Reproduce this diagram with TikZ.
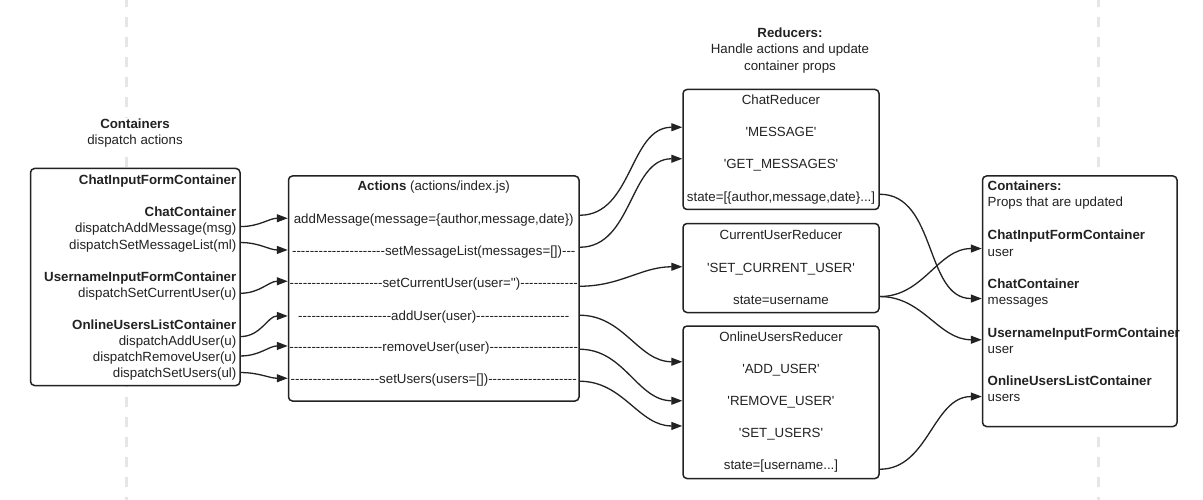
\documentclass[tikz,border=0pt]{standalone}
\usepackage{fontspec}
\setmainfont{Liberation Sans}[Ligatures=TeXOff]
\usetikzlibrary{arrows.meta}
\definecolor{ink}{HTML}{222222}
\definecolor{guide}{HTML}{E6E6E6}
\begin{document}
\begin{tikzpicture}[x=1pt,y=-1pt,
  box/.style={draw=ink, line width=1.5pt, rounded corners=4pt, fill=white, inner sep=0pt},
  txt/.style={inner sep=0pt, text=ink, font=\fontsize{13.3}{16}\selectfont},
  bold/.style={inner sep=0pt, text=ink, font=\fontsize{13.3}{16}\selectfont\bfseries},
  flow/.style={draw=ink, line width=1.3pt, -{Triangle[length=11pt,width=8pt]}},
  guideline/.style={draw=guide, line width=3pt, dash pattern=on 10pt off 10pt, dash phase=3pt}]
\useasboundingbox (0,0) rectangle (1203,500);
\fill[white] (0,0) rectangle (1203,500);
% guide lines
\coordinate (gLt) at (126,0); \coordinate (gLb) at (126,500);
\coordinate (gRt) at (1098,0); \coordinate (gRb) at (1098,500);
\draw[guideline] (gLt) -- (gLb);
\draw[guideline] (gRt) -- (gRb);
% headers
\node[bold, fill=white, inner sep=1pt, anchor=base] (h1) at (135,129) {Containers};
\node[txt, fill=white, inner sep=1pt, anchor=base] (h2) at (135,145) {dispatch actions};
\node[bold, anchor=base] (h3) at (790,38) {Reducers:};
\node[txt, anchor=base] (h4) at (790,54) {Handle actions and update};
\node[txt, anchor=base] (h5) at (790,70.5) {container props};
% boxes
\node[box, minimum width=209.5pt, minimum height=217pt] (cont) at (135.25,277) {};
\node[box, minimum width=290.5pt, minimum height=225pt] (act) at (433.75,288.5) {};
\node[box, minimum width=196pt, minimum height=120pt] (chatR) at (781,149.5) {};
\node[box, minimum width=196pt, minimum height=89pt] (curR) at (781,268) {};
\node[box, minimum width=196pt, minimum height=152.5pt] (onR) at (781,402.25) {};
\node[box, minimum width=194.5pt, minimum height=250.5pt] (props) at (1079.75,301.25) {};
% left container texts
\node[bold, anchor=base east] (c1) at (236.5,185) {ChatInputFormContainer};
\node[bold, anchor=base east] (c2) at (236.5,217) {ChatContainer};
\node[txt, anchor=base east] (c3) at (236.5,233) {dispatchAddMessage(msg)};
\node[txt, anchor=base east] (c4) at (236.5,249) {dispatchSetMessageList(ml)};
\node[bold, anchor=base east] (c5) at (236.5,281) {UsernameInputFormContainer};
\node[txt, anchor=base east] (c6) at (236.5,297) {dispatchSetCurrentUser(u)};
\node[bold, anchor=base east] (c7) at (236.5,329) {OnlineUsersListContainer};
\node[txt, anchor=base east] (c8) at (236.5,345) {dispatchAddUser(u)};
\node[txt, anchor=base east] (c9) at (236.5,361) {dispatchRemoveUser(u)};
\node[txt, anchor=base east] (c10) at (236.5,377) {dispatchSetUsers(ul)};
% actions texts
\node[txt, anchor=base] (a0) at (433.75,191) {\textbf{Actions} (actions/index.js)};
\node[txt, anchor=base] (a1) at (433.75,223) {addMessage(message=\{author,message,date\})};
\node[txt, anchor=base] (a2) at (433.75,255) {---------------------setMessageList(messages=[])---};
\node[txt, anchor=base] (a3) at (433.75,287.5) {---------------------setCurrentUser(user='')-------------};
\node[txt, anchor=base] (a4) at (433.75,320) {---------------------addUser(user)---------------------};
\node[txt, anchor=base] (a5) at (433.75,351.5) {---------------------removeUser(user)--------------------};
\node[txt, anchor=base] (a6) at (433.75,383.5) {--------------------setUsers(users=[])--------------------};
% reducer texts
\node[txt, anchor=base] (r1) at (781,105) {ChatReducer};
\node[txt, anchor=base] (r2) at (781,137) {'MESSAGE'};
\node[txt, anchor=base] (r3) at (781,169) {'GET\_MESSAGES'};
\node[txt, anchor=base] (r4) at (781,201) {state=[\{author,message,date\}...]};
\node[txt, anchor=base] (r5) at (781,240) {CurrentUserReducer};
\node[txt, anchor=base] (r6) at (781,272) {'SET\_CURRENT\_USER'};
\node[txt, anchor=base] (r7) at (781,304) {state=username};
\node[txt, anchor=base] (r8) at (781,341.5) {OnlineUsersReducer};
\node[txt, anchor=base] (r9) at (781,373.5) {'ADD\_USER'};
\node[txt, anchor=base] (r10) at (781,405.5) {'REMOVE\_USER'};
\node[txt, anchor=base] (r11) at (781,437.5) {'SET\_USERS'};
\node[txt, anchor=base] (r12) at (781,469.5) {state=[username...]};
% props texts
\node[bold, anchor=base west] (p1) at (987.5,191) {Containers:};
\node[txt, anchor=base west] (p2) at (987.5,207) {Props that are updated};
\node[bold, anchor=base west] (p3) at (987.5,240) {ChatInputFormContainer};
\node[txt, anchor=base west] (p4) at (987.5,256) {user};
\node[bold, anchor=base west] (p5) at (987.5,288) {ChatContainer};
\node[txt, anchor=base west] (p6) at (987.5,304) {messages};
\node[bold, anchor=base west] (p7) at (987.5,337) {UsernameInputFormContainer};
\node[txt, anchor=base west] (p8) at (987.5,353) {user};
\node[bold, anchor=base west] (p9) at (987.5,385) {OnlineUsersListContainer};
\node[txt, anchor=base west] (p10) at (987.5,401) {users};
% containers -> actions
\draw[flow] ([yshift=-58.8pt]cont.north east) to[out=0,in=180] ([yshift=-43pt]act.north west);
\draw[flow] ([yshift=-74.8pt]cont.north east) to[out=0,in=180] ([yshift=-74.7pt]act.north west);
\draw[flow] ([yshift=-125.5pt]cont.north east) to[out=0,in=180] ([yshift=-106pt]act.north west);
\draw[flow] ([yshift=-168.8pt]cont.north east) to[out=0,in=180] ([yshift=-140.7pt]act.north west);
\draw[flow] ([yshift=-188.2pt]cont.north east) to[out=0,in=180] ([yshift=-170.7pt]act.north west);
\draw[flow] ([yshift=-204.8pt]cont.north east) to[out=0,in=180] ([yshift=-203pt]act.north west);
% actions -> reducers
\draw[flow] ([yshift=-40pt]act.north east) to[out=0,in=180] ([yshift=-38.5pt]chatR.north west);
\draw[flow] ([yshift=-72pt]act.north east) to[out=0,in=180] ([yshift=-70pt]chatR.north west);
\draw[flow] ([yshift=-111pt]act.north east) to[out=0,in=180] ([yshift=-44pt]curR.north west);
\draw[flow] ([yshift=-140pt]act.north east) to[out=0,in=180] ([yshift=-36.5pt]onR.north west);
\draw[flow] ([yshift=-174pt]act.north east) to[out=0,in=180] ([yshift=-75.5pt]onR.north west);
\draw[flow] ([yshift=-206pt]act.north east) to[out=0,in=180] ([yshift=-100.7pt]onR.north west);
% reducers -> props
\draw[flow] ([yshift=-105.5pt]chatR.north east) to[out=0,in=180] ([yshift=-123.3pt]props.north west);
\draw[flow] ([yshift=-73.8pt]curR.north east) to[out=0,in=180] ([yshift=-73.3pt]props.north west);
\draw[flow] ([yshift=-73.8pt]curR.north east) to[out=0,in=180] ([yshift=-164.5pt]props.north west);
\draw[flow] ([yshift=-144pt]onR.north east) to[out=0,in=180] ([yshift=-221.3pt]props.north west);
\end{tikzpicture}
\end{document}
